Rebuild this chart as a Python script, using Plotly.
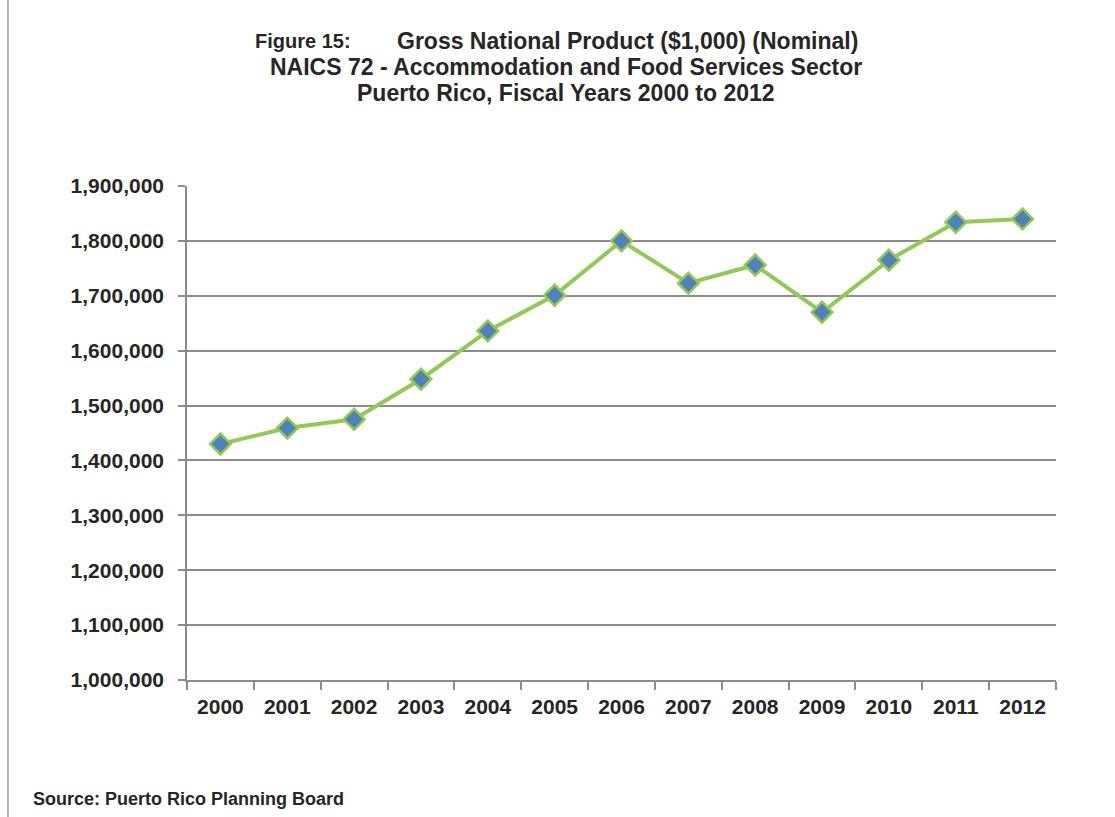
import plotly.graph_objects as go

years = ["2000", "2001", "2002", "2003", "2004", "2005", "2006",
         "2007", "2008", "2009", "2010", "2011", "2012"]
gnp = [1430000, 1459000, 1475000, 1548000, 1636000, 1701000, 1800000,
       1723000, 1756000, 1670000, 1765000, 1834000, 1840000]
y_ticks = list(range(1000000, 1900001, 100000))
y_labels = ["<b>{:,}</b>".format(v) for v in y_ticks]
x_labels = ["<b>{}</b>".format(y) for y in years]

FONT = "Liberation Sans, Arial, sans-serif"
TXT = "#262626"
GRID = "#8c8c8c"

fig = go.Figure()
fig.add_trace(go.Scatter(
    x=years, y=gnp, mode="lines+markers",
    line=dict(color="#92C952", width=4),
    marker=dict(symbol="diamond", size=16, color="#4F81BD",
                line=dict(color="#92C952", width=2.5)),
    showlegend=False, hoverinfo="x+y",
))

fig.update_layout(
    width=1115, height=817,
    margin=dict(l=187, r=59, t=186, b=137),
    paper_bgcolor="white", plot_bgcolor="white",
    font=dict(family=FONT, color=TXT),
    xaxis=dict(
        type="category", showgrid=False,
        showline=True, linecolor=GRID, linewidth=1.5,
        ticks="outside", ticklen=8, tickcolor=GRID, tickwidth=1.5,
        tickson="boundaries",
        tickvals=years, ticktext=x_labels,
        tickfont=dict(size=21, family=FONT, color=TXT),
        ticklabelstandoff=7,
        range=[-0.5, 12.5],
    ),
    yaxis=dict(
        range=[1000000, 1900000], tickvals=y_ticks, ticktext=y_labels,
        showgrid=True, gridcolor=GRID, gridwidth=1.5,
        showline=True, linecolor=GRID, linewidth=1.5,
        ticks="outside", ticklen=7, tickcolor=GRID, tickwidth=1.5,
        tickfont=dict(size=21, family=FONT, color=TXT),
        ticklabelstandoff=10, zeroline=False,
    ),
)

title_parts = [
    ("<b>Figure 15:</b>", 0.0759, "left", 1.2935, 20),
    ("<b>Gross National Product ($1,000) (Nominal)</b>", 0.2394, "left", 1.2935, 23),
    ("<b>NAICS 72 - Accommodation and Food Services Sector</b>", 0.4361, "center", 1.2409, 23),
    ("<b>Puerto Rico, Fiscal Years 2000 to 2012</b>", 0.4367, "center", 1.1883, 23),
]
for txt, xp, anc, yp, sz in title_parts:
    fig.add_annotation(
        text=txt, xref="paper", yref="paper", x=xp, y=yp,
        xanchor=anc, yanchor="middle", showarrow=False,
        font=dict(size=sz, family=FONT, color=TXT),
    )

fig.add_annotation(
    text="<b>Source: Puerto Rico Planning Board</b>",
    xref="paper", yref="paper", x=-0.18, y=-0.241,
    xanchor="left", yanchor="middle", showarrow=False,
    font=dict(size=18, family=FONT, color=TXT),
)

fig.add_shape(type="line", xref="paper", yref="paper",
              x0=-0.206, x1=-0.206, y0=-0.3, y1=1.4,
              line=dict(color="#9a9a9a", width=1.5))

fig.write_html("out.html")
